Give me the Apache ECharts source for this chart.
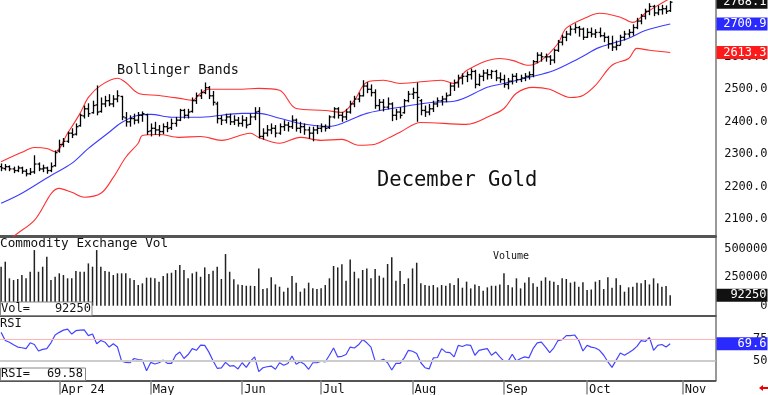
<!DOCTYPE html>
<html><head><meta charset="utf-8">
<script src="https://cdn.jsdelivr.net/npm/echarts@6/dist/echarts.min.js"></script>
<style>html,body{margin:0;padding:0;background:#fff}#c{width:768px;height:395px}</style>
</head><body><div id="c"></div>
<script>
// ---------- DATA (trading-day index 0 = first bar on chart) ----------
const opens = [2262,2256,2262,2255,2250,2258,2248,2240,2246,2270,
 2255,2258,2250,2265,2310,2330,2340,2365,2362,2388,
 2418,2440,2428,2452,2432,2455,2465,2455,2470,2478,
 2412,2400,2410,2405,2420,2422,2372,2380,2375,2370,
 2385,2382,2395,2405,2435,2420,2432,2465,2480,2490,
 2505,2480,2455,2410,2405,2415,2400,2405,2395,2405,
 2392,2415,2432,2355,2365,2375,2380,2365,2385,2390,
 2385,2405,2380,2385,2375,2365,2375,2380,2385,2382,
 2415,2440,2420,2415,2430,2455,2470,2480,2510,2500,
 2490,2450,2460,2445,2455,2420,2430,2428,2465,2485,
 2490,2465,2435,2430,2440,2455,2465,2470,2482,2510,
 2520,2535,2540,2545,2555,2515,2540,2550,2545,2555,
 2535,2530,2515,2525,2540,2530,2535,2540,2545,2585,
 2605,2600,2600,2590,2620,2645,2660,2670,2685,2690,
 2685,2660,2675,2670,2675,2665,2660,2640,2630,2635,
 2660,2670,2675,2690,2710,2725,2740,2755,2735,2745,
 2748,2742];
const highs = [2272,2270,2266,2262,2265,2262,2255,2258,2297,2275,
 2268,2262,2275,2312,2345,2350,2370,2380,2395,2425,
 2450,2457,2465,2512,2475,2480,2485,2482,2497,2480,
 2430,2420,2425,2430,2432,2425,2395,2400,2390,2395,
 2400,2410,2415,2440,2440,2440,2475,2490,2500,2521,
 2510,2495,2462,2420,2425,2425,2420,2415,2420,2415,
 2425,2445,2445,2380,2390,2395,2390,2395,2405,2400,
 2420,2410,2400,2395,2385,2385,2390,2395,2392,2420,
 2445,2445,2430,2440,2465,2480,2490,2528,2522,2515,
 2500,2470,2470,2475,2460,2440,2445,2470,2495,2505,
 2521,2470,2450,2455,2465,2475,2480,2490,2520,2530,
 2545,2549,2555,2564,2560,2548,2560,2562,2560,2560,
 2552,2545,2535,2548,2550,2545,2550,2555,2590,2614,
 2614,2610,2605,2625,2652,2668,2680,2695,2703,2695,
 2690,2688,2690,2685,2690,2675,2665,2665,2650,2668,
 2680,2685,2700,2720,2732,2748,2765,2760,2758,2760,
 2758,2772];
const lows = [2248,2250,2248,2242,2245,2240,2232,2236,2240,2248,
 2245,2240,2245,2262,2305,2322,2335,2350,2358,2385,
 2410,2415,2425,2420,2428,2445,2448,2445,2460,2405,
 2385,2385,2392,2395,2400,2360,2355,2360,2355,2362,
 2368,2375,2385,2402,2410,2410,2428,2455,2470,2485,
 2470,2450,2395,2390,2395,2390,2390,2385,2385,2380,
 2390,2405,2349,2345,2355,2362,2352,2360,2372,2370,
 2378,2370,2365,2360,2348,2340,2362,2368,2370,2378,
 2410,2410,2400,2405,2425,2445,2460,2478,2488,2478,
 2440,2435,2432,2438,2402,2405,2410,2425,2460,2470,
 2400,2420,2415,2420,2430,2445,2450,2460,2480,2495,
 2505,2515,2522,2530,2503,2510,2525,2530,2532,2525,
 2520,2505,2500,2515,2520,2522,2525,2530,2537,2580,
 2585,2585,2575,2580,2615,2635,2648,2665,2672,2662,
 2652,2658,2660,2658,2660,2645,2625,2618,2620,2635,
 2650,2660,2665,2685,2700,2715,2728,2725,2728,2730,
 2732,2738];
const closes = [2258,2262,2255,2250,2258,2248,2240,2245,2270,2255,
 2258,2250,2262,2305,2330,2340,2365,2360,2385,2420,
 2440,2425,2450,2430,2455,2465,2455,2470,2480,2415,
 2400,2410,2405,2420,2425,2370,2380,2375,2370,2385,
 2380,2395,2405,2435,2420,2430,2465,2480,2490,2505,
 2480,2460,2410,2405,2415,2400,2405,2395,2405,2390,
 2415,2430,2355,2365,2375,2380,2365,2385,2390,2385,
 2405,2380,2385,2375,2365,2375,2380,2385,2380,2415,
 2440,2420,2415,2430,2455,2470,2480,2510,2500,2490,
 2450,2460,2445,2455,2420,2430,2420,2465,2485,2490,
 2475,2435,2430,2440,2455,2465,2470,2480,2510,2520,
 2535,2540,2545,2555,2515,2540,2550,2545,2555,2535,
 2530,2515,2525,2540,2530,2535,2540,2545,2585,2605,
 2600,2600,2590,2620,2645,2660,2670,2685,2690,2685,
 2660,2675,2670,2675,2665,2660,2640,2630,2635,2660,
 2670,2675,2690,2710,2725,2740,2755,2735,2745,2748,
 2740,2768.1];
const volumes = [342000,386000,240000,225000,234000,269000,240000,298000,488000,298000,
 342000,430000,225000,254000,284000,269000,240000,240000,304000,298000,
 298000,371000,342000,488000,342000,304000,298000,269000,284000,284000,
 284000,240000,225000,181000,196000,246000,246000,240000,211000,260000,
 284000,289000,313000,357000,313000,240000,284000,298000,254000,336000,
 278000,307000,342000,234000,453000,298000,231000,187000,181000,175000,
 175000,173000,327000,146000,152000,249000,187000,167000,123000,158000,
 260000,202000,123000,152000,202000,152000,146000,152000,181000,240000,
 348000,336000,363000,219000,406000,298000,240000,313000,327000,240000,
 322000,263000,246000,366000,424000,219000,304000,190000,240000,327000,
 377000,196000,181000,175000,181000,161000,181000,175000,196000,181000,
 240000,158000,211000,152000,187000,173000,132000,161000,175000,175000,
 187000,284000,181000,161000,240000,152000,202000,249000,196000,167000,
 219000,249000,219000,211000,181000,240000,234000,202000,211000,167000,
 205000,137000,143000,211000,225000,146000,249000,158000,240000,181000,
 123000,161000,167000,202000,196000,225000,187000,240000,196000,167000,
 173000,92250];
const rsi = [82.7,73.3,71.4,68.4,65.8,65,64,70.7,68.8,61.3,
 63.2,64,70.7,79.7,82.7,85.3,86.5,80.8,84.6,85.3,
 85.6,79,80.8,69.6,73.3,71.4,65.8,69.6,65.8,49.7,
 48.2,47.8,52.7,51.5,50.8,38.7,48.2,46.3,47.8,50.8,
 47.1,47.1,56.4,60.2,52.7,57.2,64,62.1,68,67.7,
 60,50,41.4,42,48.2,44,44.5,40.7,47.8,42.5,
 49.7,54.5,37.6,42,43.2,44,40.3,47.8,45,47,
 55.6,46,48.9,46,40.3,47.8,47.8,49.7,48.9,56.4,
 64.7,54.5,55.2,57.2,65.8,64.7,68.4,74.4,70.7,65.8,
 49.7,49.7,51.9,47.8,39.5,47.1,47.1,53.4,62.1,61,
 58.4,47.8,42.1,40.7,53.4,53.8,64,60,59.4,54.5,
 67.7,66.5,68.4,67.7,56.4,62.1,63.2,64,56.4,60.2,
 54.5,49.7,49.7,57.5,49.7,52.7,54.5,53.4,64,70.7,
 71.4,65.8,59.4,65,73.3,74.4,79,79,79.7,73.3,
 61.3,67.7,65.8,64.7,62.1,56.4,48.9,42.5,50.8,59,
 56.4,59.4,62.5,66.6,73.3,72.2,77,62.1,67.7,68.8,
 65.8,69.58];
// Bollinger bands, read at these trading-day indices
const upperDay = [0,5,8,11,13,16,19,21,24,28,30,33,38,43,46,48,50,58,62,67,71,78,82,85,88,92,96,106,109,112,120,123,127,130,134,136,141,144,149,152,155,158,161];
const upperVal = [2277,2306,2321,2318,2308,2365,2426,2475,2512,2534,2521,2488,2481,2472,2466,2488,2500,2500,2503,2497,2441,2435,2429,2466,2522,2528,2518,2528,2518,2558,2595,2589,2574,2589,2641,2688,2722,2734,2722,2706,2734,2758,2780];
const middleDay = [0,5,12,17,21,26,29,33,36,41,48,58,62,67,72,79,82,88,96,104,109,117,121,127,133,139,144,151,155,161];
const middleVal = [2149,2180,2235,2272,2318,2368,2398,2420,2423,2414,2414,2426,2426,2411,2395,2386,2395,2426,2445,2460,2463,2506,2518,2537,2558,2595,2629,2657,2681,2700.9];
const lowerDay = [0,4,8,14,17,20,24,27,30,33,34,38,43,48,53,60,62,67,72,77,82,86,90,93,96,101,112,118,121,124,128,132,137,140,143,147,151,153,156,161];
const lowerVal = [2020,2057,2097,2195,2183,2168,2180,2229,2291,2334,2358,2361,2352,2355,2343,2365,2352,2334,2352,2343,2346,2328,2331,2349,2368,2398,2392,2420,2441,2488,2506,2500,2475,2481,2512,2574,2595,2626,2620,2613.3];
// Axis ticks
const monthDay = [14,36,58,77,99,121,141,164];
const monthLabels = ['Apr 24','May','Jun','Jul','Aug','Sep','Oct','Nov'];
const priceTicks = [2100,2200,2300,2400,2500,2600,2700];
const volTicks = [0,250000,500000];
const rsiTicks = [50,75];

// ---------- CHART ----------
const FONT = '"DejaVu Sans Mono", monospace';
const n = closes.length;
const lastClose = closes[n-1], lastMid = middleVal[middleVal.length-1], lastLow = lowerVal[lowerVal.length-1];
const lastVol = volumes[n-1], lastRsi = rsi[n-1];
const XMIN = -0.265, XMAX = 171.9;

const ohlc = closes.map((c,i)=>[i, opens[i], highs[i], lows[i], c]);
const pairs = (d,v)=>d.map((x,k)=>[x, v[k]]);

function renderOHLC(params, api){
  const i = api.value(0);
  const pO = api.coord([i, api.value(1)]);
  const pH = api.coord([i, api.value(2)]);
  const pL = api.coord([i, api.value(3)]);
  const pC = api.coord([i, api.value(4)]);
  const x = Math.round(pH[0]) + 0.5;
  const st = {stroke:'#000', lineWidth:1.3};
  return {type:'group', children:[
    {type:'line', shape:{x1:x, y1:pH[1], x2:x, y2:pL[1]}, style:st},
    {type:'line', shape:{x1:x-2, y1:pO[1], x2:x, y2:pO[1]}, style:st},
    {type:'line', shape:{x1:x, y1:pC[1], x2:x+2, y2:pC[1]}, style:st}
  ]};
}

const hidden = {show:false};
function xAx(grid, lineW, extra){
  return Object.assign({gridIndex:grid, type:'value', min:XMIN, max:XMAX,
    axisLine:{show:true, onZero:false, lineStyle:{color:'#555', width:lineW}},
    axisTick:hidden, axisLabel:hidden, splitLine:hidden}, extra||{});
}
function yLab(grid, min, max, ticks, fmt){
  return {gridIndex:grid, type:'value', position:'right', min:min, max:max,
    axisLine:{show:true, onZero:false, lineStyle:{color:'#777', width:1.5}},
    axisTick:hidden, splitLine:hidden,
    axisLabel:{show:true, customValues:ticks, formatter:fmt, align:'right', margin:52,
      fontFamily:FONT, fontSize:12, color:'#111'}};
}
function boxRich(bg){
  return {color:'#fff', backgroundColor:bg, width:44, height:13, lineHeight:13, align:'right',
    padding:[0,1,0,6], fontFamily:FONT, fontSize:12};
}
function yBox(grid, min, max, vals, fmt){
  return {gridIndex:grid, type:'value', position:'right', min:min, max:max, z:10,
    axisLine:hidden, axisTick:hidden, splitLine:hidden,
    axisLabel:{show:true, customValues:vals, formatter:fmt, align:'left', margin:1,
      rich:{k:boxRich('#111'), b:boxRich('#2a2aff'), r:boxRich('#ff1a1a')}}};
}
const gridBase = {left:0, right:52.5, containLabel:false, outerBoundsMode:'none'};

const option = {
  animation:false,
  grid:[
    Object.assign({top:0, height:236}, gridBase),
    Object.assign({top:237.5, height:78.5}, gridBase),
    Object.assign({top:316, height:64.5}, gridBase)
  ],
  xAxis:[
    xAx(0, 3), xAx(1, 2),
    xAx(2, 2, {
      axisTick:{show:true, customValues:monthDay, length:14, inside:false, lineStyle:{color:'#888', width:1.5}},
      axisLabel:{show:true, customValues:monthDay, formatter:v=>monthLabels[monthDay.indexOf(v)],
        align:'left', margin:3, padding:[0,0,0,2], fontFamily:FONT, fontSize:12, color:'#111'}
    })
  ],
  yAxis:[
    yLab(0, 2048.6, 2774.8, priceTicks, v=>v.toFixed(1)),
    yBox(0, 2048.6, 2774.8, [lastClose, lastMid, lastLow], v=>{
      const k = v===lastClose ? 'k' : (v===lastMid ? 'b' : 'r');
      return '{'+k+'|'+v.toFixed(1)+'}';
    }),
    yLab(1, -90350, 598250, volTicks, v=>String(v)),
    yBox(1, -90350, 598250, [lastVol], v=>'{k|'+v+'}'),
    yLab(2, 27.4, 101.5, rsiTicks, v=>String(v)),
    yBox(2, 27.4, 101.5, [lastRsi], v=>'{b|'+v.toFixed(1)+'}')
  ],
  series:[
    {type:'line', xAxisIndex:0, yAxisIndex:0, data:pairs(upperDay, upperVal), smooth:0.35, showSymbol:false,
      lineStyle:{color:'#ff3030', width:1.1}, silent:true, clip:true},
    {type:'line', xAxisIndex:0, yAxisIndex:0, data:pairs(middleDay, middleVal), smooth:0.35, showSymbol:false,
      lineStyle:{color:'#3c3cff', width:1.1}, silent:true, clip:true},
    {type:'line', xAxisIndex:0, yAxisIndex:0, data:pairs(lowerDay, lowerVal), smooth:0.35, showSymbol:false,
      lineStyle:{color:'#ff3030', width:1.1}, silent:true, clip:true},
    {type:'custom', xAxisIndex:0, yAxisIndex:0, data:ohlc, renderItem:renderOHLC, clip:true,
      encode:{x:0, y:[1,2,3,4]}, z:5},
    {type:'bar', xAxisIndex:1, yAxisIndex:2, data:volumes.map((v,i)=>[i,v]), barWidth:1.5,
      itemStyle:{color:'#222'}, silent:true},
    {type:'line', xAxisIndex:2, yAxisIndex:4, data:rsi.map((v,i)=>[i,v]), showSymbol:false,
      lineStyle:{color:'#4444ff', width:1.2}, silent:true,
      markLine:{silent:true, symbol:['none','none'], label:{show:false},
        data:[{yAxis:75, lineStyle:{color:'#ffb3b3', width:1, type:'solid'}},
              {yAxis:50, lineStyle:{color:'#cccccc', width:2, type:'solid'}}]}}
  ],
  graphic:[
    {type:'text', x:117, y:70, style:{text:'Bollinger Bands', font:'13.5px '+FONT, fill:'#111', verticalAlign:'middle'}},
    {type:'text', x:377, y:180.5, style:{text:'December Gold', font:'20.5px '+FONT, fill:'#111', verticalAlign:'middle'}},
    {type:'text', x:0, y:244, style:{text:'Commodity Exchange Vol', font:'12.7px '+FONT, fill:'#111', verticalAlign:'middle'}},
    {type:'text', x:493, y:256.5, style:{text:'Volume', font:'10px '+FONT, fill:'#111', verticalAlign:'middle'}},
    {type:'rect', shape:{x:0.5, y:302, width:91.5, height:13.5}, style:{fill:'#fff', stroke:'#888', lineWidth:1}, z:20},
    {type:'text', x:1, y:308.5, z:21, style:{text:'Vol=', font:'12px '+FONT, fill:'#111', verticalAlign:'middle'}},
    {type:'text', x:91, y:308.5, z:21, style:{text:String(lastVol), font:'12px '+FONT, fill:'#111', align:'right', verticalAlign:'middle'}},
    {type:'text', x:0, y:324, style:{text:'RSI', font:'12px '+FONT, fill:'#111', verticalAlign:'middle'}},
    {type:'rect', shape:{x:0.5, y:368, width:85, height:12.5}, style:{fill:'#fff', stroke:'#888', lineWidth:1}, z:20},
    {type:'text', x:1, y:374, z:21, style:{text:'RSI=', font:'12px '+FONT, fill:'#111', verticalAlign:'middle'}},
    {type:'text', x:83, y:374, z:21, style:{text:lastRsi.toFixed(2), font:'12px '+FONT, fill:'#111', align:'right', verticalAlign:'middle'}},
    {type:'polygon', shape:{points:[[759,388],[763,385],[763,387],[768,387],[768,389],[763,389],[763,391]]}, style:{fill:'#e00'}}
  ]
};
const chart = echarts.init(document.getElementById('c'), null, {renderer:'canvas'});
chart.setOption(option);
</script>
</body></html>
